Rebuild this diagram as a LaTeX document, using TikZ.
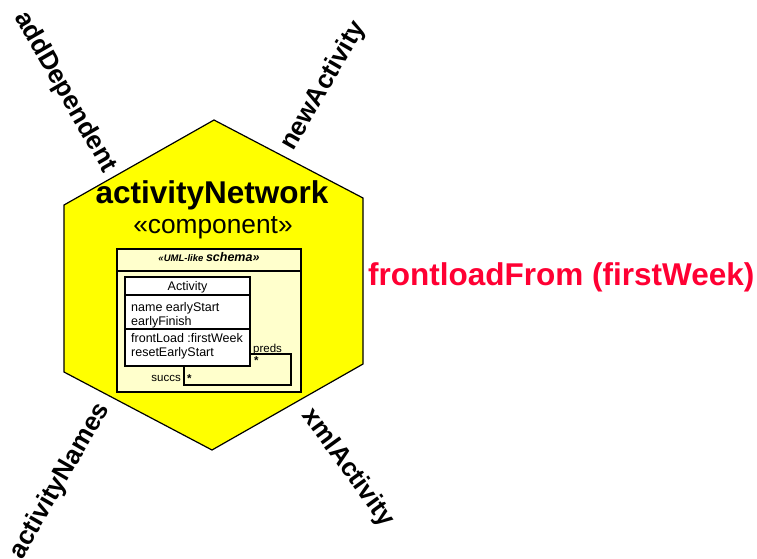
\documentclass[tikz,border=0pt]{standalone}
\usepackage{fontspec}
\setmainfont{Liberation Sans}
\usetikzlibrary{positioning}
\definecolor{hexyellow}{RGB}{255,255,0}
\definecolor{paleyellow}{RGB}{255,255,204}
\definecolor{opred}{RGB}{255,0,51}

\begin{document}
\begin{tikzpicture}[x=1pt, y=-1pt,
  port/.style={font=\bfseries\fontsize{26}{26}\selectfont, inner sep=0pt},
  title/.style={font=\bfseries\fontsize{31.5}{31.5}\selectfont, inner sep=0pt},
  stereo/.style={font=\fontsize{26.3}{26.3}\selectfont, inner sep=0pt},
  member/.style={font=\fontsize{12.5}{12.5}\selectfont, inner sep=0pt},
  role/.style={font=\fontsize{11.5}{11.5}\selectfont, inner sep=0pt},
  box/.style={draw, line width=1.2pt},
  every node/.style={inner sep=0pt}
]
\useasboundingbox (0,0) rectangle (757,558);

% Hexagon
\draw[line width=1.2pt, fill=hexyellow] (214,120) -- (363,198) -- (363,364) -- (212,450)
  -- (64,372) -- (64,205) -- cycle;

% Ports
\node[port, rotate=-60] (addDep) at (65,92) {addDependent};
\node[port, rotate=60] (newAct) at (324,86) {newActivity};
\node[port, rotate=60] (actNames) at (60,481) {activityNames};
\node[port, rotate=-54] (xmlAct) at (348,468) {xmlActivity};

% Component name
\node[title, anchor=base] (comp) at (212,203) {activityNetwork};
\node[stereo, anchor=base] (compst) at (213,233) {«component»};

% Schema
\node[box, fill=paleyellow, minimum width=184pt, minimum height=143pt] (schema) at (209,320.5) {};
\draw[line width=1.2pt] (116,271) -- (302,271);
\node[anchor=base] (schemast) at (209,261)
  {\bfseries\itshape\fontsize{9.5}{9.5}\selectfont «UML-like \fontsize{12.5}{12.5}\selectfont schema»};

% Activity class
\node[box, fill=white, minimum width=125pt, minimum height=89pt] (act) at (187.5,321.5) {};
\draw[line width=1.2pt] (act.west |- 0,295) -- (act.east |- 0,295);
\draw[line width=1.2pt] (act.west |- 0,329) -- (act.east |- 0,329);
\node[member, anchor=base] (actname) at (187.5,290) {Activity};
\node[member, anchor=base west] (attr1) at (131,311) {name earlyStart};
\node[member, anchor=base west] (attr2) at (131,325) {earlyFinish};
\node[member, anchor=base west] (op1) at (131,342) {frontLoad :firstWeek};
\node[member, anchor=base west] (op2) at (131,356) {resetEarlyStart};

% Self association
\coordinate (predsend) at (291,354);
\coordinate (succsend) at (184,385);
\draw[line width=1.2pt] (act.east |- predsend) -- (predsend) -- (predsend |- succsend)
  -- (succsend) -- (succsend |- act.south);
\node[role, anchor=base west] (preds) at (253,352) {preds};
\node[role, anchor=north west] (predsm) at (254,356) {\bfseries *};
\node[role, anchor=base east] (succs) at (181,381) {succs};
\node[role, anchor=north west] (succsm) at (187,374) {\bfseries *};

% Operation
\node[title, text=opred, anchor=base west] (front) at (368,285) {frontloadFrom (firstWeek)};

\end{tikzpicture}
\end{document}
